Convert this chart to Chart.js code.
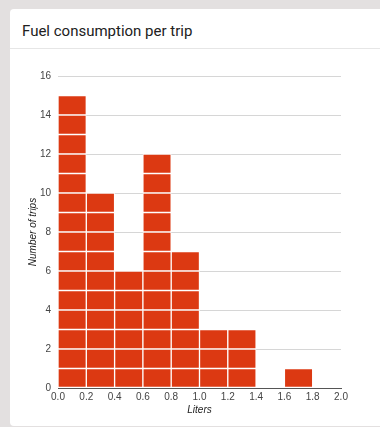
<!DOCTYPE html>
<html>
<head>
<meta charset="utf-8">
<script src="https://cdn.jsdelivr.net/npm/chart.js@4"></script>
<style>
  html, body { margin: 0; padding: 0; }
  body { width: 380px; height: 427px; background: #e3e0e0; position: relative; overflow: hidden; }
  .card { position: absolute; left: 10px; top: 9px; width: 400px; height: 417px; background: #fff; border-radius: 4px; }
  .card h2 { margin: 0; position: absolute; left: 12px; top: 13px; font: 400 15px Roboto, sans-serif; color: #212121; }
  .card .sep { position: absolute; left: 0; right: 0; top: 39px; height: 1px; background: #e6e6e6; }
  #wrap { position: absolute; left: 0; top: 50px; width: 380px; height: 377px; }
</style>
</head>
<body>
<div class="card">
  <h2>Fuel consumption per trip</h2>
  <div class="sep"></div>
</div>
<div id="wrap"><canvas id="chart"></canvas></div>
<script>
// Histogramme : un bloc par trajet, bacs de 0,2 L
const binCenters = [0.1, 0.3, 0.5, 0.7, 0.9, 1.1, 1.3, 1.5, 1.7, 1.9];
const tripCounts = [15, 10, 6, 12, 7, 3, 3, 0, 1, 0];
const xTickLabels = ['0.0', '0.2', '0.4', '0.6', '0.8', '1.0', '1.2', '1.4', '1.6', '1.8', '2.0'];
const yTickLabels = ['0', '2', '4', '6', '8', '10', '12', '14', '16'];

const RED = '#dc3912';
const maxCount = Math.max(...tripCounts);

// une série par "étage" pour dessiner les blocs empilés
const datasets = [];
for (let level = 1; level <= maxCount; level++) {
  datasets.push({
    data: binCenters.map((x, i) => ({ x, y: tripCounts[i] >= level ? 1 : null })),
    backgroundColor: RED,
    borderColor: 'rgba(255,255,255,0.8)',
    borderWidth: 1,
    borderSkipped: false,
    barPercentage: 1,
    categoryPercentage: 1,
  });
}

new Chart(document.getElementById('chart'), {
  type: 'bar',
  data: { datasets },
  options: {
    responsive: true,
    maintainAspectRatio: false,
    animation: false,
    layout: { padding: { left: 27, right: 39, top: 26, bottom: 11 } },
    plugins: { legend: { display: false }, tooltip: { enabled: false } },
    scales: {
      x: {
        type: 'linear',
        stacked: true,
        offset: false,
        min: 0,
        max: 2,
        ticks: {
          stepSize: 0.2,
          color: '#444',
          font: { family: 'Liberation Sans, Arial', size: 10 },
          padding: 3,
          maxRotation: 0,
          autoSkip: false,
          callback: (v, i) => xTickLabels[i],
        },
        grid: { display: false, drawTicks: false },
        border: { color: '#555', width: 1 },
        title: {
          display: true,
          text: 'Liters',
          color: '#222',
          font: { family: 'Liberation Sans, Arial', size: 10, style: 'italic' },
          padding: { top: 2, bottom: 0 },
        },
        afterFit: s => { s.height = 28; },
      },
      y: {
        stacked: true,
        min: 0,
        max: 16,
        ticks: {
          stepSize: 2,
          color: '#444',
          font: { family: 'Liberation Sans, Arial', size: 10 },
          padding: 7,
          callback: (v, i) => yTickLabels[i],
        },
        grid: { color: '#d6d6d6', drawTicks: false },
        border: { display: false },
        title: {
          display: true,
          text: 'Number of trips',
          color: '#222',
          font: { family: 'Liberation Sans, Arial', size: 10, style: 'italic' },
          padding: { top: 0, bottom: 0 },
        },
        afterFit: s => { s.width = 31; },
      },
    },
  },
});
</script>
</body>
</html>
